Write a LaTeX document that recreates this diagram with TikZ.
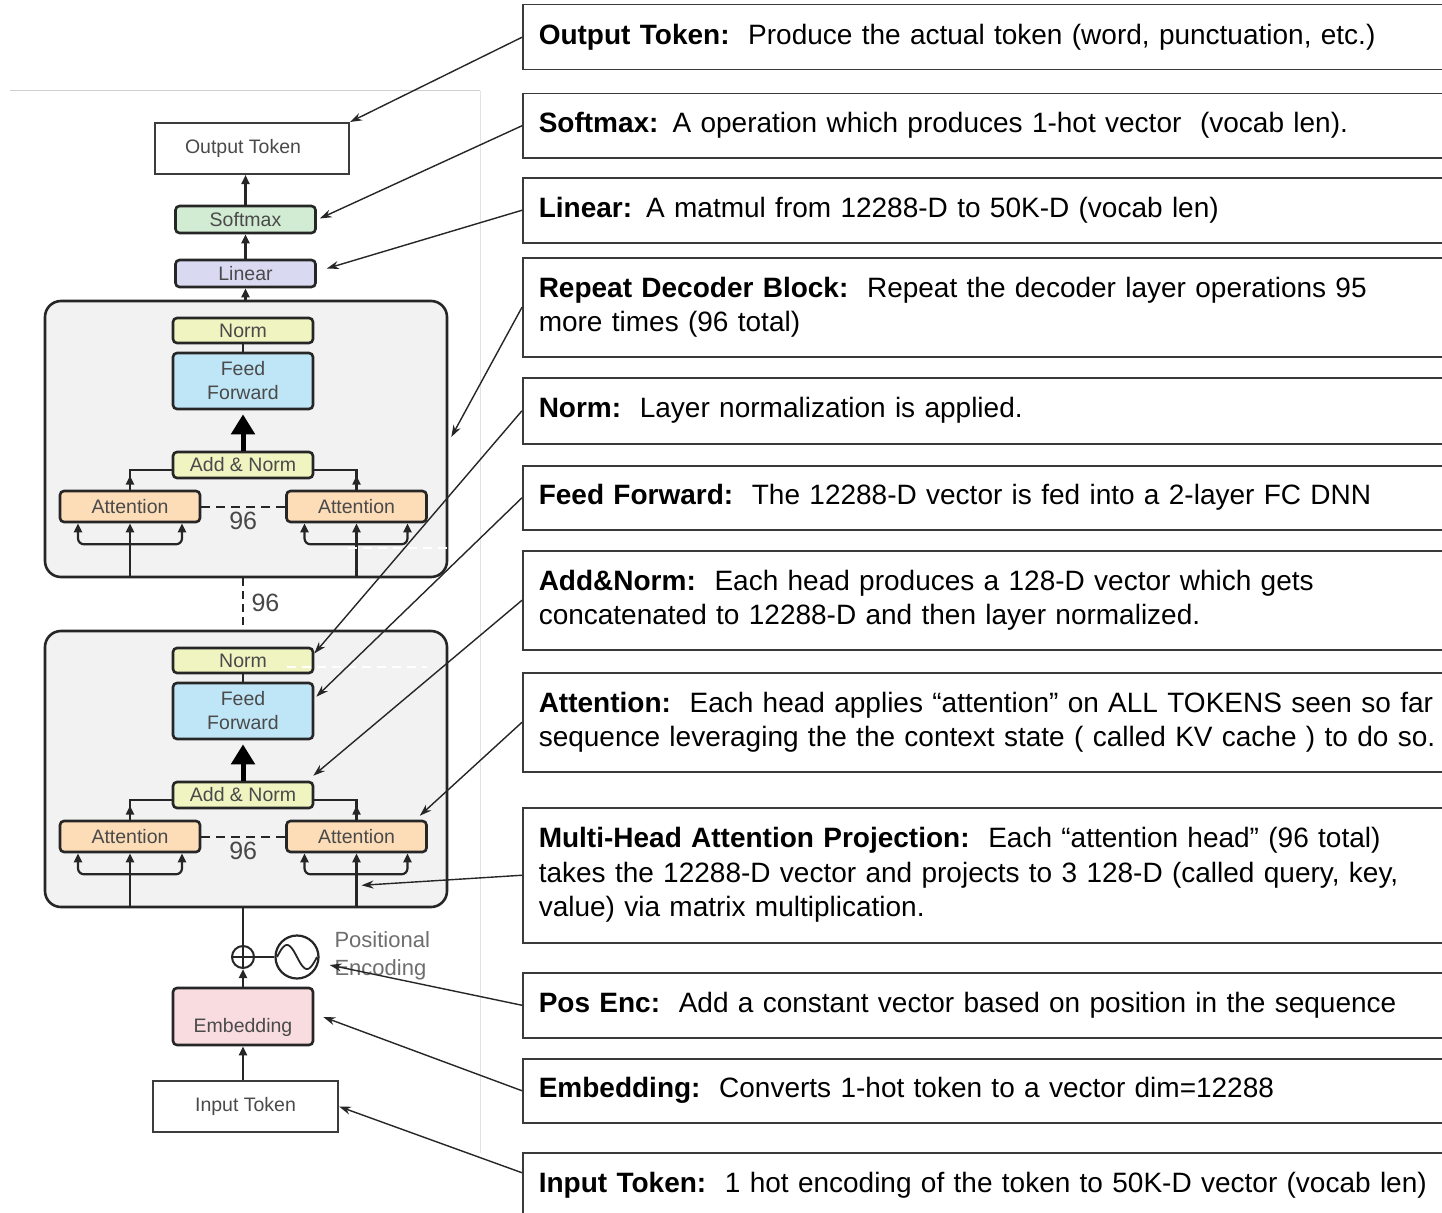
\documentclass[tikz,border=0pt]{standalone}
\usepackage{fontspec}
\setmainfont{Liberation Sans}
\usetikzlibrary{arrows.meta,calc}
\definecolor{lblgray}{HTML}{4A4A4A}
\definecolor{edgegray}{HTML}{262626}
\definecolor{panelgray}{HTML}{F2F2F2}
\definecolor{softgreen}{HTML}{D2ECD3}
\definecolor{linlav}{HTML}{D9DAF2}
\definecolor{normyel}{HTML}{EFF4C1}
\definecolor{ffblue}{HTML}{BFE6F7}
\definecolor{attpeach}{HTML}{FCDDB8}
\definecolor{embpink}{HTML}{F9DCDF}
\definecolor{rulegray}{HTML}{CFCFCF}
\definecolor{boxedge}{HTML}{3A3A3A}
\definecolor{pegray}{HTML}{6E6E6E}
\newcommand{\lblfont}{\fontsize{19.5}{24}\selectfont}
\newcommand{\descfont}{\fontsize{28}{34.5}\selectfont}
\newcommand{\numfont}{\fontsize{25}{28}\selectfont}
\begin{document}
\begin{tikzpicture}[x=1pt,y=-1pt,
  layer/.style={draw=edgegray, line width=2.6pt, rounded corners=4pt, minimum width=140pt,
    inner sep=0pt, font=\lblfont, text=lblgray, align=center},
  tokbox/.style={draw=edgegray!90, line width=2pt, inner sep=0pt, font=\lblfont, text=lblgray},
  blockbox/.style={draw=edgegray, line width=2.6pt, rounded corners=16pt, fill=panelgray,
    minimum width=402pt, minimum height=276pt, inner sep=0pt},
  flow/.style={draw=edgegray, line width=2.2pt, -{Triangle[length=9pt,width=8pt]}},
  twoway/.style={draw=edgegray, line width=2.2pt, rounded corners=6pt,
    {Triangle[length=9pt,width=8pt]}-{Triangle[length=9pt,width=8pt]}},
  wire/.style={draw=edgegray, line width=2.2pt},
  bigflow/.style={draw=black, line width=5pt, -{Triangle[length=20pt,width=23pt]}, shorten >=4pt},
  headsep/.style={draw=edgegray, line width=2pt, dash pattern=on 9pt off 6pt},
  desc/.style={draw=boxedge, line width=1.5pt, anchor=north west, inner xsep=16pt, inner ysep=0pt,
    text width=918pt, align=left, font=\descfont, text=black},
  leader/.style={draw=black!85, line width=1.4pt, -{Stealth[length=12pt,width=8pt]}},
]
\useasboundingbox (0,0) rectangle (1442,1212);
\clip (0,0) rectangle (1442,1212);
\fill[white] (0,0) rectangle (1442,1212);

% panel frame
\draw[rulegray, line width=1pt] (10,91) -- (480,91);
\draw[rulegray!60, line width=1pt] (480,91) -- (480,1153);

% output head
\node[tokbox, minimum width=194pt, minimum height=51pt] (out) at (252,148.5) {};
\node[font=\lblfont, text=lblgray] (outtxt) at (243,148) {Output Token};
\node[layer, fill=softgreen, minimum height=27pt] (soft) at (245.5,219.5) {Softmax};
\node[layer, fill=linlav, minimum height=27pt] (lin) at (245.5,273.5) {Linear};

% two decoder blocks
\foreach \s/\dy in {1/0, 2/330}{
  \node[blockbox] (blk\s) at (246,439+\dy) {};
  \node[layer, fill=normyel, minimum height=25pt] (norm\s) at (243,330.5+\dy) {Norm};
  \node[layer, fill=ffblue, minimum height=56pt] (ff\s) at (243,381+\dy) {Feed\\Forward};
  \node[layer, fill=normyel, minimum height=26pt] (an\s) at (243,465+\dy) {Add \& Norm};
  \node[layer, fill=attpeach, minimum height=31pt] (attL\s) at (130,506.5+\dy) {Attention};
  \node[layer, fill=attpeach, minimum height=31pt] (attR\s) at (356.5,506.5+\dy) {Attention};
  \draw[wire] (norm\s.south) -- (ff\s.north);
  \draw[bigflow] (an\s.north) -- (ff\s.south);
  \draw[wire] (attL\s.north) |- ($(an\s.west)+(0,5)$);
  \draw[wire] (attR\s.north) |- ($(an\s.east)+(0,5)$);
  \draw[flow] (attL\s.north) -- ++(0,-14);
  \draw[flow] (attR\s.north) -- ++(0,-14);
  \draw[headsep] (attL\s.east) -- (attR\s.west);
  \node[font=\numfont, text=edgegray!85] (n\s) at ($(attL\s.east)!0.5!(attR\s.west)+(0,14)$) {96};
  \draw[flow] (attL\s.south |- blk\s.south) -- (attL\s.south);
  \draw[flow] (attR\s.south |- blk\s.south) -- (attR\s.south);
  \draw[twoway] ($(attL\s.south)+(-52,0)$) -- ++(0,21) -| ($(attL\s.south)+(52,0)$);
  \draw[twoway] ($(attR\s.south)+(-52,0)$) -- ++(0,21) -| ($(attR\s.south)+(51,0)$);
}
% faint scan marks across the blocks
\draw[white, line width=1.5pt, dash pattern=on 9pt off 6pt] (348,548) -- (447,548);
\draw[white, line width=1.5pt, dash pattern=on 9pt off 6pt] (287,667) -- (427,667);

% repetition between blocks
\draw[wire, dash pattern=on 8pt off 5pt] (norm2.north |- blk1.south) -- (norm2.north |- blk2.north);
\node[font=\numfont, text=edgegray!85, anchor=west] (rep) at (248,603) {96};

% block 1 to linear, linear to softmax, softmax to output
\draw[flow] (lin.south |- blk1.north) -- (lin.south);
\draw[flow] (lin.north) -- (soft.south);
\draw[flow] (soft.north) -- (soft.north |- out.south);

% input side
\node[circle, draw=edgegray, line width=2pt, minimum size=22pt, inner sep=0pt] (oplus) at (243,957) {};
\draw[edgegray, line width=1.6pt] (oplus.north) -- (oplus.south) (oplus.west) -- (oplus.east);
\node[circle, draw=edgegray, line width=2.2pt, minimum size=43pt, inner sep=0pt] (pe) at (297,957) {};
\draw[edgegray, line width=1.8pt] plot[domain=-20:20, samples=50, smooth]
  ({297+\x},{957-12*sin(180*(\x+20)/20)});
\draw[wire] (oplus.east) -- (pe.west);
\node[anchor=west, align=left, font=\fontsize{22}{28}\selectfont, text=pegray] (petxt) at (331,956) {Positional\\Encoding};
\draw[wire] (oplus.north |- blk2.south) -- (oplus.north);
\node[layer, fill=embpink, minimum height=57pt] (emb) at (243,1016.5) {};
\node[font=\lblfont, text=lblgray] (embtxt) at (243,1027) {Embedding};
\draw[flow] (emb.north) -- (oplus.south);
\node[tokbox, minimum width=185pt, minimum height=51pt] (inp) at (245.5,1106.5) {Input Token};
\draw[flow] (emb.south |- inp.north) -- (emb.south);

% description column
\node[desc, minimum height=65pt] (d1) at (522,4) {\textbf{Output Token:}\ \ Produce the actual token (word, punctuation, etc.)};
\node[desc, minimum height=64pt] (d2) at (522,93) {\textbf{Softmax:} A operation which produces 1-hot vector\ \ (vocab len).};
\node[desc, minimum height=65pt] (d3) at (522,177) {\textbf{Linear:} A matmul from 12288-D to 50K-D (vocab len)};
\node[desc, minimum height=99pt] (d4) at (522,257) {\textbf{Repeat Decoder Block:}\ \ Repeat the decoder layer operations 95\\more times (96 total)};
\node[desc, minimum height=66pt] (d5) at (522,377) {\textbf{Norm:}\ \ Layer normalization is applied.};
\node[desc, minimum height=64pt] (d6) at (522,465) {\textbf{Feed Forward:}\ \ The 12288-D vector is fed into a 2-layer FC DNN};
\node[desc, minimum height=99pt] (d7) at (522,550) {\textbf{Add\&Norm:}\ \ Each head produces a 128-D vector which gets\\concatenated to 12288-D and then layer normalized.};
\node[desc, minimum height=99pt] (d8) at (522,672) {\textbf{Attention:}\ \ Each head applies “attention” on ALL TOKENS seen so far\\sequence leveraging the the context state ( called KV cache ) to do so.};
\node[desc, minimum height=135pt] (d9) at (522,807) {\textbf{Multi-Head Attention Projection:}\ \ Each “attention head” (96 total)\\takes the 12288-D vector and projects to 3 128-D (called query, key,\\value) via matrix multiplication.};
\node[desc, minimum height=65pt] (d10) at (522,972) {\textbf{Pos Enc:}\ \ Add a constant vector based on position in the sequence};
\node[desc, minimum height=64pt] (d11) at (522,1058) {\textbf{Embedding:}\ \ Converts 1-hot token to a vector dim=12288};
\node[desc, minimum height=64pt] (d12) at (522,1152) {\textbf{Input Token:}\ \ 1 hot encoding of the token to 50K-D vector (vocab len)};

% leaders from descriptions to the parts they describe
\draw[leader] (d1.west) -- (out.north east);
\draw[leader] (d2.west) -- ($(soft.east)+(3,-1)$);
\draw[leader] (d3.west) -- ($(lin.east)+(10,-5)$);
\draw[leader] (d4.west) -- ($(blk1.east)+(3,-2)$);
\draw[leader] (d5.west) -- ($(norm2.east)+(0,-7)$);
\draw[leader] (d6.west) -- ($(ff2.north east)+(2,15)$);
\draw[leader] (d7.west) -- ($(an2.north east)+(-1,-5)$);
\draw[leader] (d8.west) -- ($(attR2.north east)+(-8,-4)$);
\draw[leader] (d9.west) -- ($(attR2.south)+(5,32)$);
\draw[leader] (d10.west) -- ($(pe.east)+(10,8)$);
\draw[leader] (d11.west) -- ($(emb.east)+(9,0.5)$);
\draw[leader] ($(d12.west)+(0,-12)$) -- (inp.east);
\end{tikzpicture}
\end{document}
